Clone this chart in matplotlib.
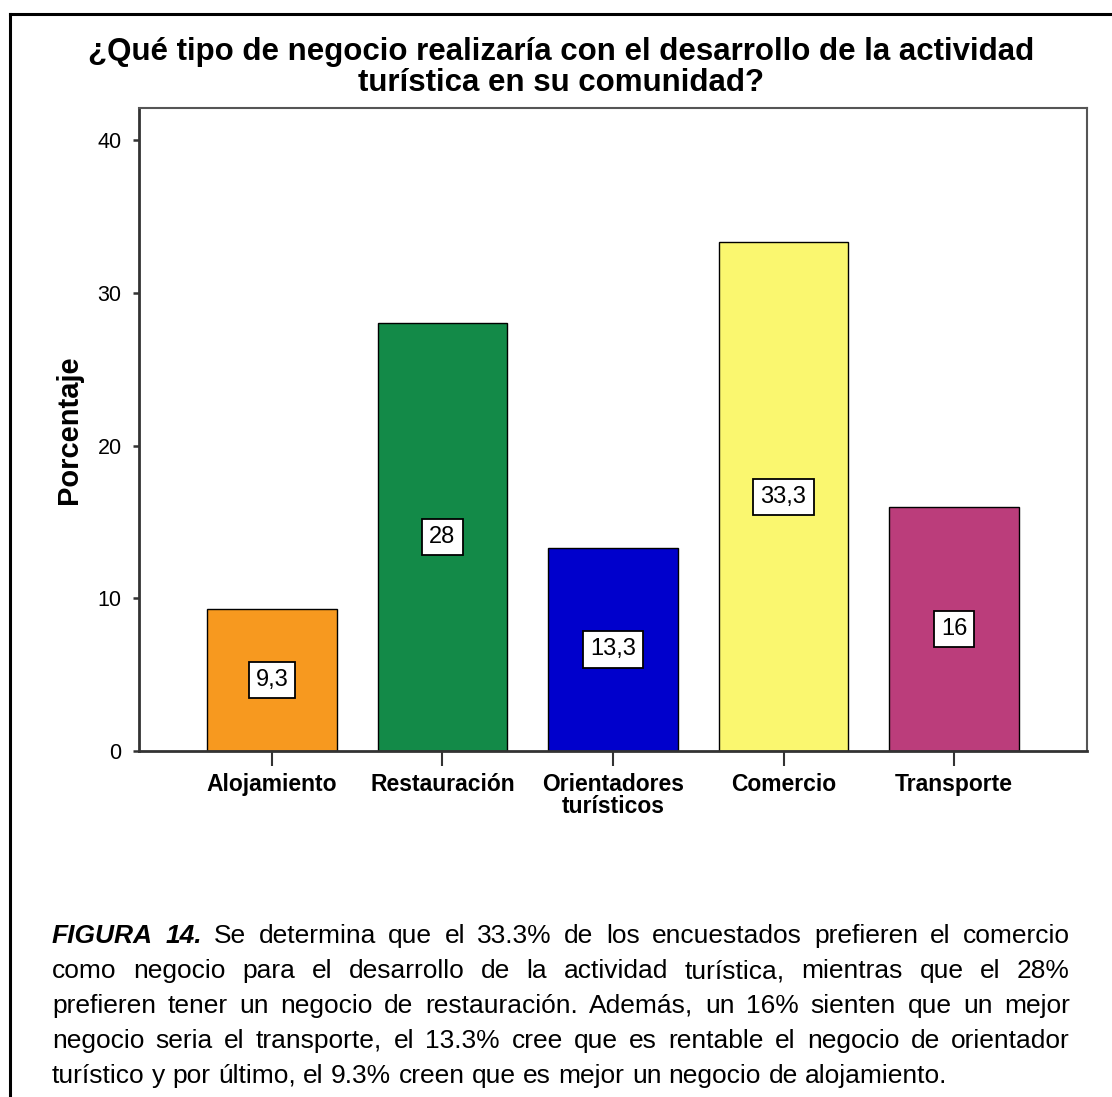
import matplotlib
matplotlib.use("Agg")
import matplotlib.pyplot as plt
from matplotlib.lines import Line2D

plt.rcParams['font.family'] = ['Liberation Sans', 'DejaVu Sans']

# data
categories = ['Alojamiento', 'Restauración', 'Orientadores\nturísticos', 'Comercio', 'Transporte']
values = [9.3, 28, 13.3, 33.3, 16]
value_labels = ['9,3', '28', '13,3', '33,3', '16']
colors = ['#F7991F', '#138A48', '#0000CC', '#FAF76F', '#BB3D7B']
yticks = [0, 10, 20, 30, 40]

title_lines = ['¿Qué tipo de negocio realizaría con el desarrollo de la actividad',
               'turística en su comunidad?']
caption_lines = [
    'Se determina que el 33.3% de los encuestados prefieren el comercio',
    'como negocio para el desarrollo de la actividad turística, mientras que el 28%',
    'prefieren tener un negocio de restauración. Además, un 16% sienten que un mejor',
    'negocio seria el transporte, el 13.3% cree que es rentable el negocio de orientador',
    'turístico y por último, el 9.3% creen que es mejor un negocio de alojamiento.',
]

W, H = 1112, 1097
fig = plt.figure(figsize=(W / 100, H / 100), dpi=100)

def fx(px):
    return px / W

def fy(py):
    return 1 - py / H

ax = fig.add_axes([fx(139), fy(751), fx(1087) - fx(139), fy(108) - fy(751)])
x = range(len(categories))
bars = ax.bar(x, values, width=0.757, color=colors, edgecolor='black', linewidth=1.0, zorder=2)
for b, lab in zip(bars, value_labels):
    ax.text(b.get_x() + b.get_width() / 2, b.get_height() / 2, lab,
            ha='center', va='center', fontsize=17, zorder=3,
            bbox=dict(boxstyle='square,pad=0.3', facecolor='white', edgecolor='black', linewidth=1.3))

ax.set_xlim(-0.78, 4.78)
ax.set_ylim(0, 42.1)
ax.set_yticks(yticks)
ax.set_yticklabels([str(v) for v in yticks], fontsize=15.5)
ax.set_xticks(list(x))
ax.set_xticklabels(categories, fontsize=16.5, fontweight='bold', linespacing=0.95)
ax.tick_params(axis='y', length=4.5, width=1.8, color='#333333', pad=8)
ax.tick_params(axis='x', length=11, width=1.5, color='#333333', pad=5)

for side in ['left', 'bottom']:
    ax.spines[side].set_linewidth(2.0)
    ax.spines[side].set_color('#333333')
for side in ['top', 'right']:
    ax.spines[side].set_linewidth(1.5)
    ax.spines[side].set_color('#555555')

fig.text(fx(69), fy(430), 'Porcentaje', rotation=90, ha='center', va='center',
         fontsize=21, fontweight='bold')

fig.text(fx(561), fy(60), title_lines[0], ha='center', va='baseline', fontsize=22.5, fontweight='bold')
fig.text(fx(561), fy(91), title_lines[1], ha='center', va='baseline', fontsize=22.5, fontweight='bold')

# outer frame (left and top only)
fig.add_artist(Line2D([fx(9.5), fx(9.5)], [0, fy(13.5)], transform=fig.transFigure, color='black', lw=2.2))
fig.add_artist(Line2D([fx(9.5), 1], [fy(13.5), fy(13.5)], transform=fig.transFigure, color='black', lw=2.2))

# justified caption
fig.canvas.draw()
renderer = fig.canvas.get_renderer()
left, right = 52, 1070
baselines = [943, 978, 1013, 1048, 1083]
fs = 19
for i, line in enumerate(caption_lines):
    items = []
    if i == 0:
        items.append(('FIGURA', dict(fontweight='bold', fontstyle='italic')))
        items.append(('14.', dict(fontweight='bold', fontstyle='italic')))
    for w in line.split():
        items.append((w, {}))
    texts = []
    for w, kw in items:
        t = fig.text(0, fy(baselines[i]), w, ha='left', va='baseline', fontsize=fs, **kw)
        texts.append(t)
    widths = [t.get_window_extent(renderer).width for t in texts]
    if i < len(caption_lines) - 1:
        gap = (right - left - sum(widths)) / (len(texts) - 1)
    else:
        sp = fig.text(0, 0, 'a a', fontsize=fs)
        sp2 = fig.text(0, 0, 'aa', fontsize=fs)
        gap = sp.get_window_extent(renderer).width - sp2.get_window_extent(renderer).width
        sp.remove()
        sp2.remove()
    xpos = left
    for t, wd in zip(texts, widths):
        t.set_x(fx(xpos))
        xpos += wd + gap

fig.savefig('out.png', dpi=100)
